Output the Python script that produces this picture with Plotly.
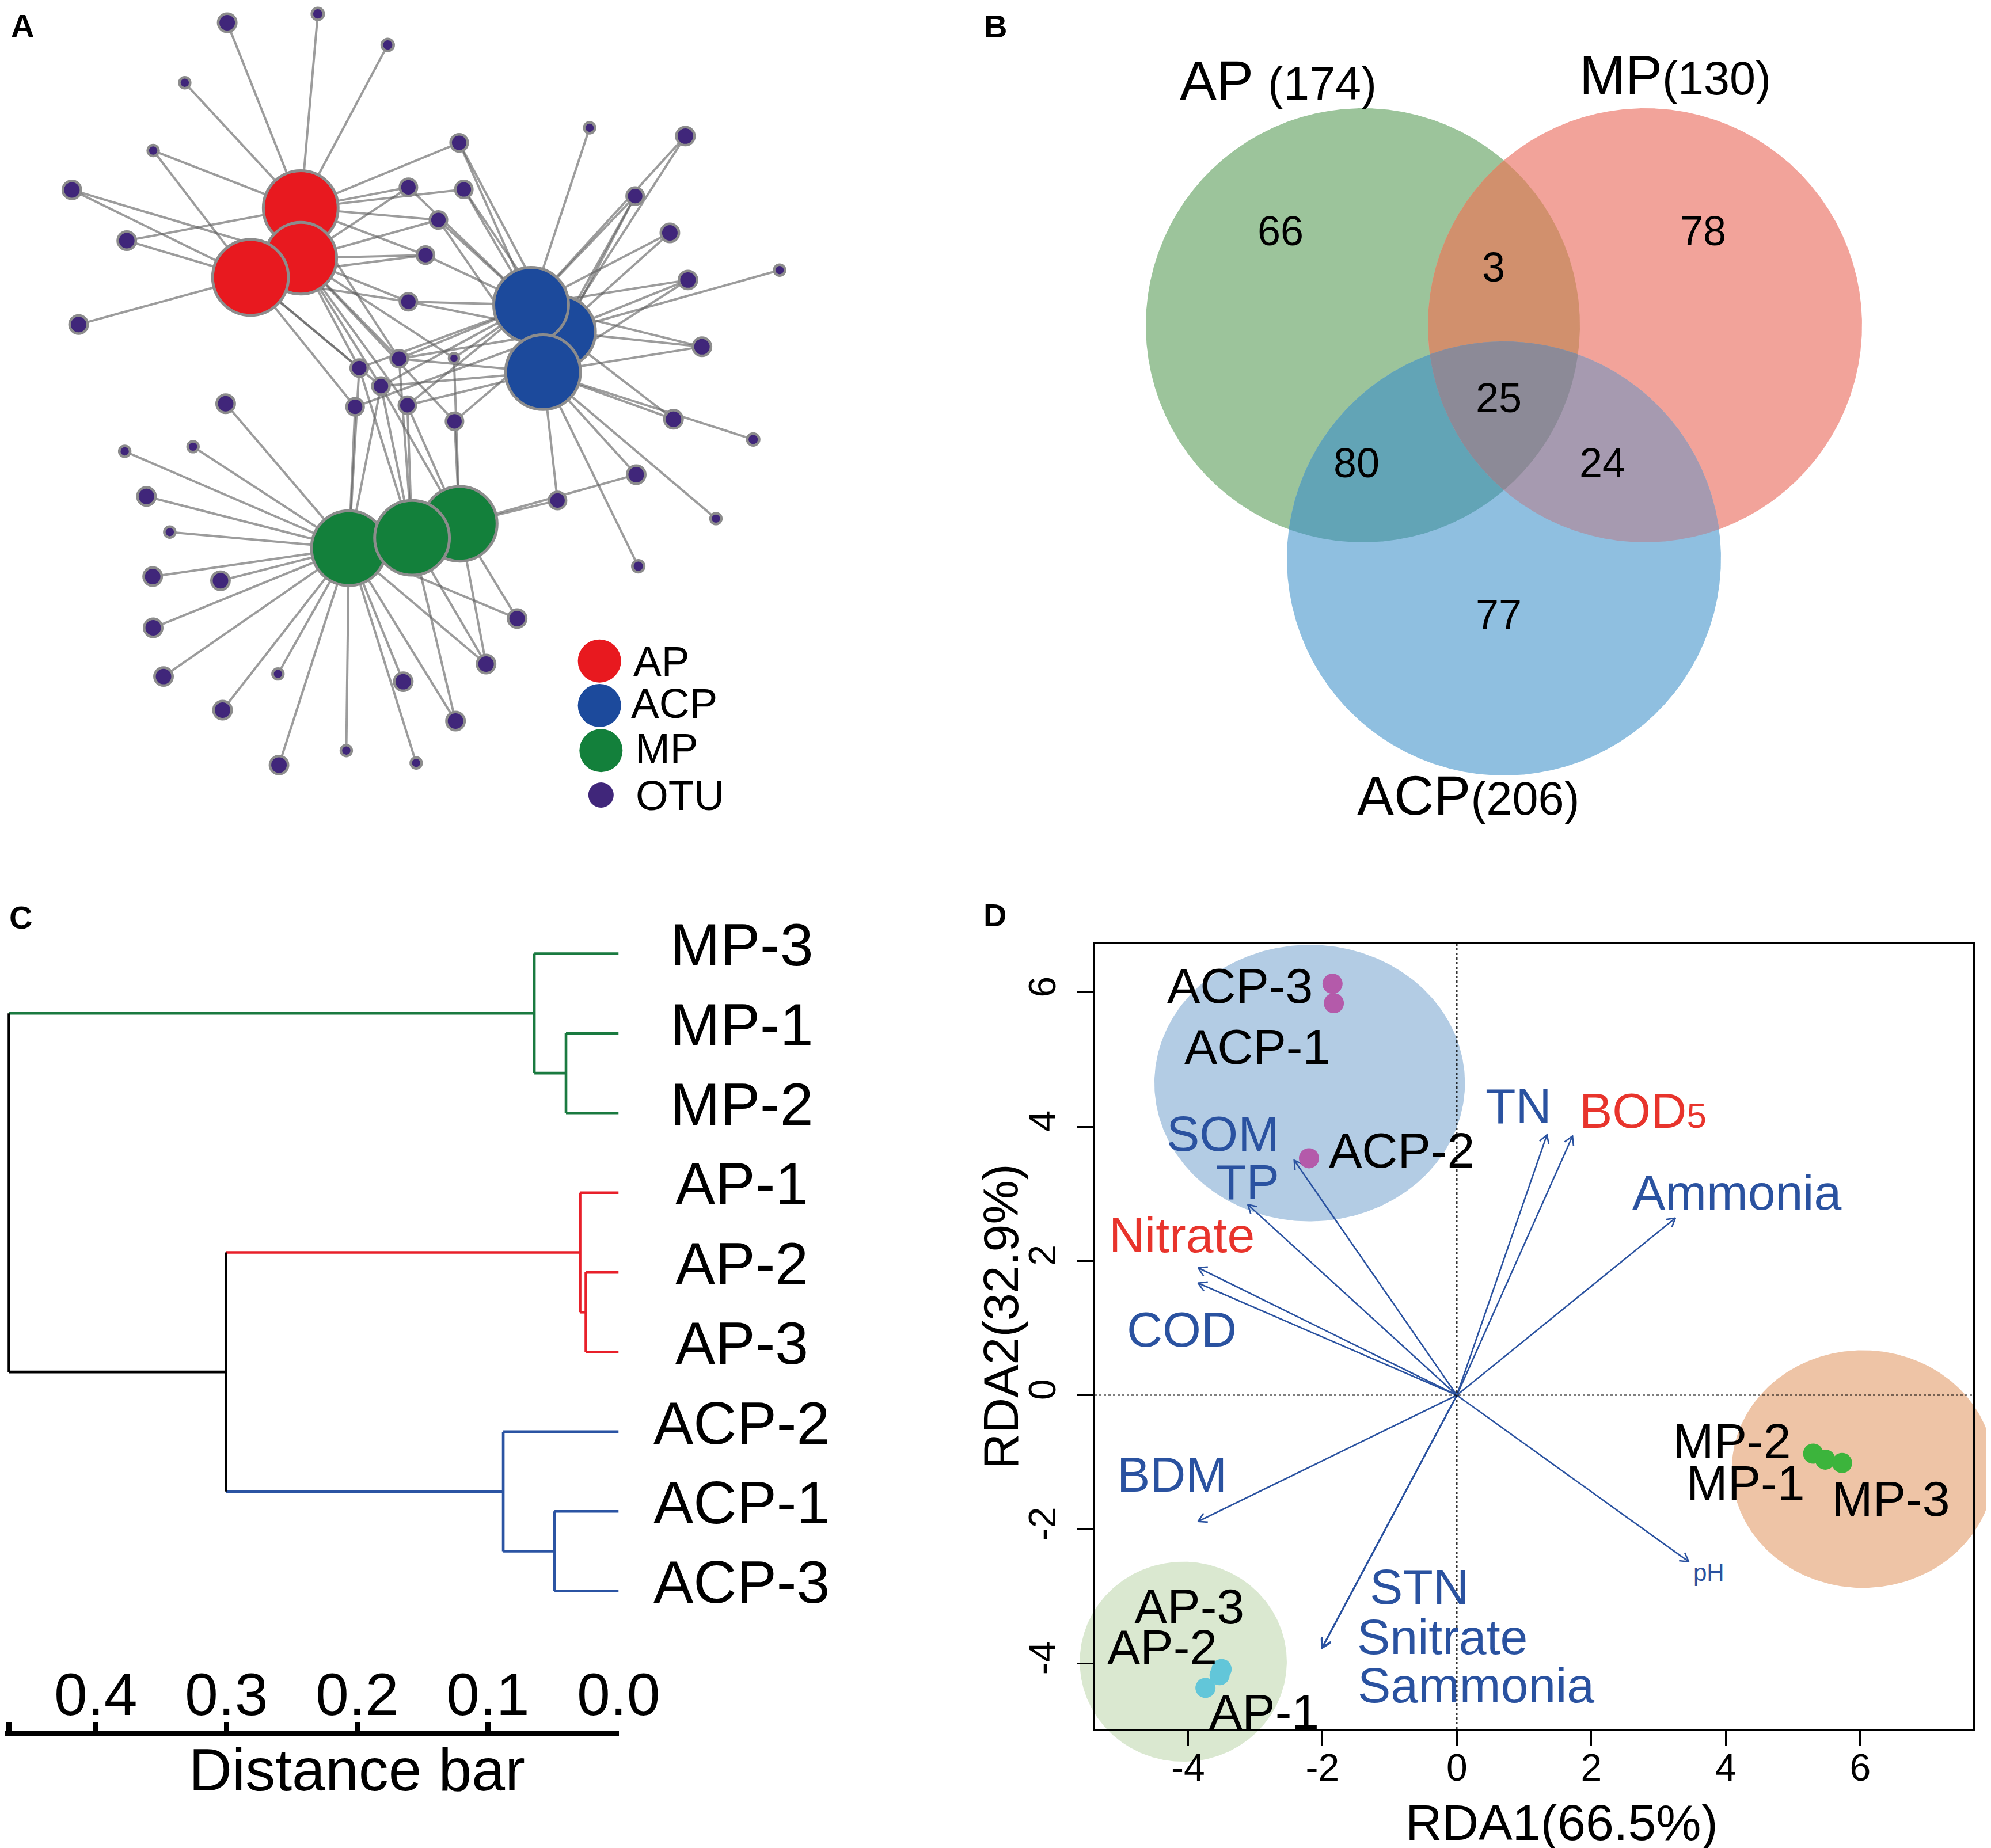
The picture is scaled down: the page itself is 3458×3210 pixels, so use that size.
import numpy as np
import plotly.graph_objects as go

W, H = 3458, 3210
FONT = "Liberation Sans, Arial, Helvetica, sans-serif"

# ======================= DATA =======================
# ---- Panel A: OTU-sample network (layout coordinates of nodes) ----
hub_labels = ["AP-1", "AP-2", "AP-3", "ACP-1", "ACP-2", "ACP-3", "MP-1", "MP-2", "MP-3"]
hub_groups = ["AP", "AP", "AP", "ACP", "ACP", "ACP", "MP", "MP", "MP"]
hub_x = [572, 572, 475, 1017, 1072, 1040, 665, 787, 879]
hub_y = [393, 490, 527, 580, 632, 710, 1050, 1030, 1003]
hub_r = [75, 72, 76, 75, 72, 75, 75, 75, 75]
hub_draw_order = [0, 1, 2, 4, 3, 5, 6, 8, 7]

otu_x = [430, 605, 740, 348, 287, 130, 236, 143,
         878, 780, 887, 838, 813, 780,
         1130, 1315, 1218, 1285, 1320, 1497, 1347, 1292, 1446, 1220, 1374, 1224, 1068,
         685, 762, 868, 727, 677, 778, 869,
         427, 232, 364, 274, 319, 286, 417, 287, 307, 528, 421, 530, 660, 795, 770, 871, 930, 990]
otu_y = [35, 18, 78, 151, 282, 358, 456, 618,
         267, 353, 357, 416, 484, 574,
         238, 254, 370, 441, 532, 513, 661, 801, 840, 908, 993, 1085, 958,
         702, 684, 683, 737, 777, 774, 805,
         771, 863, 854, 950, 1019, 1105, 1113, 1204, 1298, 1293, 1363, 1469, 1441, 1465, 1308, 1384, 1274, 1186]
otu_r = [20, 14, 14, 13, 13, 20, 20, 20,
         19, 19, 19, 19, 19, 19,
         13, 20, 19, 20, 20, 13, 20, 20, 14, 20, 13, 14, 19,
         19, 19, 12, 19, 19, 19, 19,
         20, 13, 13, 20, 13, 20, 20, 20, 20, 13, 20, 20, 13, 13, 20, 20, 20, 20]
otu_links = [[0], [0], [0], [0], [0, 2], [1, 2], [0, 2], [2],
             [0, 3, 4], [0, 1, 3], [0, 3, 4], [0, 1, 3, 5], [0, 1, 2, 3], [1, 2, 3, 4],
             [3], [3, 4], [3, 4, 5], [3, 4], [3, 4, 5], [4], [3, 4, 5], [4, 5], [5], [5, 8], [5], [5], [5, 8],
             [1, 2, 3, 6, 7], [0, 1, 3, 4, 5, 7], [1, 3, 8], [1, 2, 3, 5, 6, 7, 8], [2, 4, 6], [1, 3, 5, 7, 8], [1, 4, 8],
             [6], [6], [6], [6], [6], [6], [6], [6], [6], [6], [6], [6], [6], [6], [6], [6, 7], [6, 7, 8], [6, 8]]
legend_names = ["AP", "ACP", "MP", "OTU"]

# ---- Panel B: Venn counts ----
venn_sets = ["AP", "MP", "ACP"]
venn_totals = [174, 130, 206]
venn_regions = ["AP", "MP", "ACP", "AP&MP", "AP&ACP", "MP&ACP", "AP&MP&ACP"]
venn_counts = [66, 78, 77, 3, 80, 24, 25]

# ---- Panel C: hierarchical clustering ----
leaves = ["MP-3", "MP-1", "MP-2", "AP-1", "AP-2", "AP-3", "ACP-2", "ACP-1", "ACP-3"]
merge_left = [1, 0, 4, 3, 7, 6, 12, 10]
merge_right = [2, 9, 5, 11, 8, 13, 14, 15]
merge_height = [0.0403, 0.0645, 0.0251, 0.0295, 0.0491, 0.0883, 0.3005, 0.4665]
dist_ticks = [0.4, 0.3, 0.2, 0.1, 0.0]
dist_ticklabels = ["0.4", "0.3", "0.2", "0.1", "0.0"]

# ---- Panel D: RDA ----
site_labels = ["ACP-3", "ACP-1", "ACP-2", "AP-3", "AP-2", "AP-1", "MP-2", "MP-1", "MP-3"]
site_rda1 = [-1.85, -1.83, -2.20, -3.50, -3.53, -3.74, 5.30, 5.48, 5.73]
site_rda2 = [6.13, 5.84, 3.53, -4.08, -4.17, -4.36, -0.87, -0.96, -1.01]
env_names = ["TN", "BOD5", "Ammonia", "SOM", "TP", "Nitrate", "COD", "BDM",
             "STN", "Snitrate", "Sammonia", "pH"]
env_rda1 = [1.34, 1.72, 3.25, -2.42, -3.11, -3.85, -3.85, -3.85, -2.00, -2.00, -2.01, 3.45]
env_rda2 = [3.88, 3.86, 2.64, 3.50, 2.84, 1.90, 1.67, -1.88, -3.76, -3.75, -3.77, -2.48]
rda_ticks = [-4, -2, 0, 2, 4, 6]
rda_ticklabels = ["-4", "-2", "0", "2", "4", "6"]
rda1_title = "RDA1(66.5%)"
rda2_title = "RDA2(32.9%)"

# ======================= STYLE / LAYOUT =======================
grp_col = {"AP": "#E8191F", "ACP": "#1C4A9C", "MP": "#13803B"}
otu_col = "#40267A"
node_border = "#8C8C8C"
dend_col = {"AP": "#E8202A", "ACP": "#2B54A3", "MP": "#1A7A40", None: "#000000"}
venn_col = {"AP": "#9CC49B", "MP": "#F2A39A", "ACP": "#8FBFE0",
            "AP&MP": "#D1906D", "AP&ACP": "#62A4B6", "MP&ACP": "#A69AB0",
            "AP&MP&ACP": "#8C8A97"}
site_col = {"ACP": "#B45AAA", "AP": "#62C6D9", "MP": "#3CB43C"}
env_blue, env_red = "#2A52A0", "#E8342C"
env_col = [env_blue, env_red, env_blue, env_blue, env_blue, env_red, env_blue, env_blue,
           env_blue, env_blue, env_blue, env_blue]

fig = go.Figure()
annotations = []
shapes = []

def ann(text, x, y, xref, yref, size, color="black", **kw):
    d = dict(text=text, x=x, y=y, xref=xref, yref=yref, showarrow=False,
             font=dict(family=FONT, size=size, color=color), borderpad=0)
    d.update(kw)
    annotations.append(d)

# ---------------- Panel A ----------------
A_span = 1557.0                 # layout units across 1400 px
A_unit = 1400.0 / A_span        # px per layout unit
ex, ey = [], []
for x, y, links in zip(otu_x, otu_y, otu_links):
    for h in links:
        ex += [x, hub_x[h], None]
        ey += [y, hub_y[h], None]
fig.add_trace(go.Scatter(x=ex, y=ey, mode="lines", xaxis="x", yaxis="y",
                         line=dict(color="rgba(95,95,95,0.62)", width=4),
                         hoverinfo="skip"))
fig.add_trace(go.Scatter(x=otu_x, y=otu_y, mode="markers", xaxis="x", yaxis="y",
                         marker=dict(color=otu_col, opacity=1,
                                     size=[2 * r * A_unit - 4.5 for r in otu_r],
                                     line=dict(color=node_border, width=4.5)),
                         hoverinfo="skip"))
fig.add_trace(go.Scatter(x=[hub_x[i] for i in hub_draw_order], y=[hub_y[i] for i in hub_draw_order],
                         mode="markers", xaxis="x", yaxis="y",
                         marker=dict(color=[grp_col[hub_groups[i]] for i in hub_draw_order],
                                     size=[2 * hub_r[i] * A_unit - 5 for i in hub_draw_order],
                                     line=dict(color=node_border, width=5), opacity=1),
                         hoverinfo="skip"))
leg_x = [1149, 1149, 1152, 1152]
leg_y = [1268, 1354, 1441, 1527]
leg_d = [75, 75, 75, 44]
leg_c = [grp_col["AP"], grp_col["ACP"], grp_col["MP"], otu_col]
fig.add_trace(go.Scatter(x=leg_x, y=leg_y, mode="markers", xaxis="x", yaxis="y",
                         marker=dict(color=leg_c, size=leg_d, opacity=1, line=dict(width=0)),
                         hoverinfo="skip"))
for name, lx, ly in zip(legend_names, [1213, 1209, 1217, 1218], [1268, 1350, 1436, 1528]):
    ann(name, lx, ly, "x", "y", 73, xanchor="left", yanchor="middle")

# ---------------- Panel B ----------------
venn_geom = {"AP": (2359, 557, 377), "MP": (2849, 557, 377), "ACP": (2604, 962, 377)}

def region_poly(keys, n=1440):
    xs, ys = [], []
    t = np.linspace(0, 2 * np.pi, n, endpoint=False)
    for k in keys:
        cx, cy, r = venn_geom[k]
        px_, py_ = cx + r * np.cos(t), cy + r * np.sin(t)
        m = np.ones(n, bool)
        for k2 in keys:
            if k2 != k:
                c2x, c2y, r2 = venn_geom[k2]
                m &= (px_ - c2x) ** 2 + (py_ - c2y) ** 2 <= r2 ** 2
        xs.append(px_[m]); ys.append(py_[m])
    xs = np.concatenate(xs); ys = np.concatenate(ys)
    o = np.argsort(np.arctan2(ys - ys.mean(), xs - xs.mean()))
    xs, ys = xs[o], ys[o]
    return list(xs) + [xs[0]], list(ys) + [ys[0]]

for reg in venn_regions:
    vx, vy = region_poly(reg.split("&"))
    fig.add_trace(go.Scatter(x=vx, y=vy, mode="lines", fill="toself", xaxis="x2", yaxis="y2",
                             fillcolor=venn_col[reg], line=dict(width=0, color=venn_col[reg]),
                             hoverinfo="skip"))
venn_count_pos = {"AP": (2216, 393), "MP": (2950, 393), "ACP": (2595, 1059),
                  "AP&MP": (2586, 456), "AP&ACP": (2348, 796), "MP&ACP": (2775, 796),
                  "AP&MP&ACP": (2595, 683)}
for reg, cnt in zip(venn_regions, venn_counts):
    cx, cy = venn_count_pos[reg]
    ann(str(cnt), cx, cy, "x2", "y2", 72, xanchor="center", yanchor="middle")
venn_title_pos = {"AP": (2212, 131), "MP": (2901, 122), "ACP": (2542, 1373)}
venn_sep = {"AP": " ", "MP": "", "ACP": ""}
for s, tot in zip(venn_sets, venn_totals):
    tx, ty = venn_title_pos[s]
    ann(f'{s}{venn_sep[s]}<span style="font-size:81px">({tot})</span>', tx, ty, "x2", "y2", 96,
        xanchor="center", yanchor="middle")

# ---------------- Panel C ----------------
n_leaf = len(leaves)
node_y = [i + 1.0 for i in range(n_leaf)]
node_h = [0.0] * n_leaf
node_g = [lf.split("-")[0] for lf in leaves]
for l, r, h in zip(merge_left, merge_right, merge_height):
    node_y.append((node_y[l] + node_y[r]) / 2)
    node_h.append(h)
    node_g.append(node_g[l] if node_g[l] == node_g[r] else None)
segs = {}
for m, (l, r) in enumerate(zip(merge_left, merge_right)):
    nid = n_leaf + m
    for c in (l, r):
        segs.setdefault(node_g[c], ([], []))
        segs[node_g[c]][0].extend([node_h[c], node_h[nid], None])
        segs[node_g[c]][1].extend([node_y[c], node_y[c], None])
    segs.setdefault(node_g[nid], ([], []))
    segs[node_g[nid]][0].extend([node_h[nid], node_h[nid], None])
    segs[node_g[nid]][1].extend([node_y[l], node_y[r], None])
for g, (sx, sy) in segs.items():
    fig.add_trace(go.Scatter(x=sx, y=sy, mode="lines", xaxis="x3", yaxis="y3",
                             line=dict(color=dend_col[g], width=4.6), hoverinfo="skip"))
for i, lf in enumerate(leaves):
    ann(lf, 1280 / W, i + 1 - 0.11, "paper", "y3", 104, xanchor="center", yanchor="middle")
for tv, tl in zip(dist_ticks, dist_ticklabels):
    ann(tl, tv, 1 - 2935 / H, "x3", "paper", 104, xanchor="center", yanchor="middle")
ann("Distance bar", 612 / W, 1 - 3066 / H, "paper", "paper", 104, xanchor="center", yanchor="middle")

C_px_per_unit = 2270.0
C_right_px = 1066.5
C_leaf0_px, C_leaf_step = 1648.5, 138.4
C_top_px, C_bot_px = 1600.0, 2998.0
C_yrange = [1 + (C_bot_px - C_leaf0_px) / C_leaf_step, 1 + (C_top_px - C_leaf0_px) / C_leaf_step]

# ---------------- Panel D ----------------
D_dom_x = [1893 / W, 3419 / W]
D_dom_y = [1 - 2995 / H, 1 - 1632 / H]
D_rng_x = [-5.39, 7.68]
D_rng_y = [-4.97, 6.72]
E_dom_x = [0.50, 1.0]
E_dom_y = [0.0, 0.53]

def ext_range(dom, rng, edom):
    k = (rng[1] - rng[0]) / (dom[1] - dom[0])
    return [rng[0] - (dom[0] - edom[0]) * k, rng[1] + (edom[1] - dom[1]) * k]

# group ellipses (drawn on an underlying subplot with identical scale so they are not clipped)
ell = [("ACP", -2.19, 4.65, 2.31, 2.06, "#B3CCE4"),
       ("MP", 6.04, -1.10, 1.95, 1.77, "#EEC4A6"),
       ("AP", -4.07, -3.97, 1.54, 1.49, "#DAE8D0")]
t = np.linspace(0, 2 * np.pi, 400)
for _, cx, cy, rx, ry, col in ell:
    fig.add_trace(go.Scatter(x=cx + rx * np.cos(t), y=cy + ry * np.sin(t), mode="lines", fill="toself",
                             xaxis="x4", yaxis="y4", fillcolor=col, line=dict(width=0, color=col),
                             hoverinfo="skip"))

# environmental arrows (shafts + open heads)
px_per_unit = (D_dom_x[1] - D_dom_x[0]) * W / (D_rng_x[1] - D_rng_x[0])
L = 17 / px_per_unit
axs, ays = [], []
for tx, ty in zip(env_rda1, env_rda2):
    axs += [0, tx, None]
    ays += [0, ty, None]
    ang = np.arctan2(ty, tx)
    b1 = (tx + L * np.cos(ang + np.pi + np.pi / 6), ty + L * np.sin(ang + np.pi + np.pi / 6))
    b2 = (tx + L * np.cos(ang + np.pi - np.pi / 6), ty + L * np.sin(ang + np.pi - np.pi / 6))
    axs += [b1[0], tx, b2[0], None]
    ays += [b1[1], ty, b2[1], None]
fig.add_trace(go.Scatter(x=axs, y=ays, mode="lines", xaxis="x5", yaxis="y5",
                         line=dict(color=env_blue, width=2.6), hoverinfo="skip"))
fig.add_trace(go.Scatter(x=site_rda1, y=site_rda2, mode="markers", xaxis="x5", yaxis="y5",
                         marker=dict(size=35, opacity=1,
                                     color=[site_col[s.split("-")[0]] for s in site_labels],
                                     line=dict(width=0)),
                         hoverinfo="skip"))
site_lab_pos = {"ACP-3": (-3.23, 6.10), "ACP-1": (-2.97, 5.19), "ACP-2": (-0.82, 3.65),
                "AP-3": (-3.98, -3.14), "AP-2": (-4.38, -3.75), "AP-1": (-2.87, -4.71),
                "MP-2": (4.09, -0.68), "MP-1": (4.29, -1.31), "MP-3": (6.45, -1.54)}
for s in site_labels:
    lx, ly = site_lab_pos[s]
    ann(s, lx, ly, "x5", "y5", 86, xanchor="center", yanchor="middle")
env_lab_pos = {"TN": (0.92, 4.31), "BOD5": (2.77, 4.24), "Ammonia": (4.16, 3.02), "SOM": (-3.48, 3.90),
               "TP": (-3.11, 3.18), "Nitrate": (-4.09, 2.39), "COD": (-4.09, 0.98), "BDM": (-4.24, -1.18),
               "STN": (-0.56, -2.85), "Snitrate": (-0.22, -3.60), "Sammonia": (0.28, -4.32),
               "pH": (3.75, -2.64)}
for name, col in zip(env_names, env_col):
    lx, ly = env_lab_pos[name]
    txt = 'BOD<span style="font-size:62px">5</span>' if name == "BOD5" else name
    ann(txt, lx, ly, "x5", "y5", 42 if name == "pH" else 86, color=col, xanchor="center", yanchor="middle")

shapes.append(dict(type="line", xref="x5", yref="y5 domain", x0=0, x1=0, y0=0, y1=1,
                   line=dict(color="black", width=2.2, dash="4px,4px")))
shapes.append(dict(type="line", xref="x5 domain", yref="y5", x0=0, x1=1, y0=0, y1=0,
                   line=dict(color="black", width=2.2, dash="4px,4px")))
ann(rda1_title, 2704 / W, 1 - 3157 / H, "paper", "paper", 88, xanchor="center", yanchor="middle")
ann(rda2_title, 1730 / W, 1 - 2279 / H, "paper", "paper", 86, xanchor="center", yanchor="middle",
    textangle=-90)

# panel letters
for letter, lx, ly in [("A", 31, 37), ("B", 1721, 38), ("C", 28, 1585), ("D", 1720, 1581)]:
    ann(f"<b>{letter}</b>", lx / W, 1 - ly / H, "paper", "paper", 56, xanchor="center", yanchor="middle")

hidden = dict(visible=False, showgrid=False, zeroline=False, fixedrange=True)
rda_axis = dict(showgrid=False, zeroline=False, showline=True, mirror=True, linecolor="black",
                linewidth=2.7, ticks="outside", ticklen=27, tickwidth=2.7, tickcolor="black",
                tickvals=rda_ticks, ticktext=rda_ticklabels,
                tickfont=dict(family=FONT, size=66, color="black"))
fig.update_layout(
    width=W, height=H, margin=dict(l=0, r=0, t=0, b=0),
    paper_bgcolor="white", plot_bgcolor="rgba(0,0,0,0)", showlegend=False,
    font=dict(family=FONT, color="black"),
    xaxis=dict(domain=[0, 1400 / W], range=[0, A_span], anchor="y", **hidden),
    yaxis=dict(domain=[1 - 1400 / H, 1], range=[A_span, 0], anchor="x", **hidden),
    xaxis2=dict(domain=[1700 / W, 1], range=[1700, 3458], anchor="y2", **hidden),
    yaxis2=dict(domain=[1 - 1450 / H, 1], range=[1450, 0], anchor="x2", **hidden),
    xaxis3=dict(domain=[0, C_right_px / W], range=[C_right_px / C_px_per_unit, 0], anchor="y3",
                showgrid=False, zeroline=False, showline=True, linecolor="black", linewidth=10,
                ticks="inside", ticklen=14, tickwidth=9, tickcolor="black",
                tickvals=[merge_height[-1]] + dist_ticks, showticklabels=False),
    yaxis3=dict(domain=[1 - C_bot_px / H, 1 - C_top_px / H], range=C_yrange, anchor="x3", **hidden),
    xaxis4=dict(domain=E_dom_x, range=ext_range(D_dom_x, D_rng_x, E_dom_x), anchor="y4", **hidden),
    yaxis4=dict(domain=E_dom_y, range=ext_range(D_dom_y, D_rng_y, E_dom_y), anchor="x4", **hidden),
    xaxis5=dict(domain=D_dom_x, range=D_rng_x, anchor="y5", ticklabelstandoff=-19, **rda_axis),
    yaxis5=dict(domain=D_dom_y, range=D_rng_y, anchor="x5", tickangle=-90, ticklabelstandoff=12,
                **rda_axis),
    annotations=annotations, shapes=shapes,
)
fig.write_html("out.html")
